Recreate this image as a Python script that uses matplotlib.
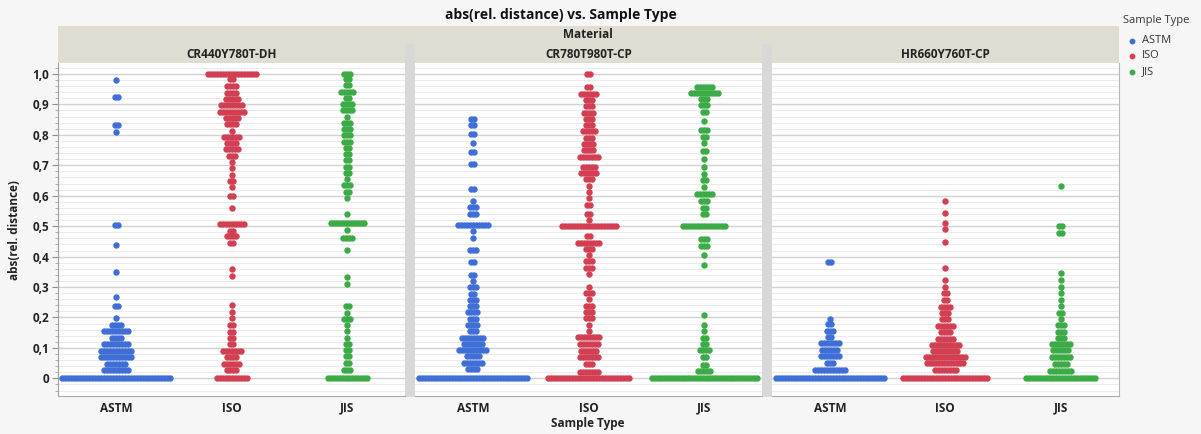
import matplotlib
matplotlib.use('Agg')
import matplotlib.pyplot as plt
from matplotlib.patches import Rectangle
import numpy as np

plt.rcParams['font.family'] = ['Open Sans', 'DejaVu Sans']

materials = ['CR440Y780T-DH', 'CR780T980T-CP', 'HR660Y760T-CP']
sample_types = ['ASTM', 'ISO', 'JIS']
type_colors = ['#3f6fd6', '#d23f52', '#3bab45']
y_ticks = [0, 0.1, 0.2, 0.3, 0.4, 0.5, 0.6, 0.7, 0.8, 0.9, 1.0]
y_tick_labels = ['0', '0,1', '0,2', '0,3', '0,4', '0,5', '0,6', '0,7', '0,8', '0,9', '1,0']

# ---- CR440Y780T-DH ----
cr440_astm_vals = [0.981, 0.924, 0.831, 0.810, 0.503, 0.438, 0.350, 0.267, 0.237, 0.198, 0.174,
                   0.154, 0.133, 0.112, 0.091, 0.069, 0.047, 0.026, 0.0]
cr440_astm_counts = [1, 2, 2, 1, 2, 1, 1, 1, 2, 1, 4, 9, 4, 9, 11, 11, 7, 9, 37]
cr440_iso_vals = [1.0, 0.982, 0.959, 0.939, 0.918, 0.897, 0.876, 0.855, 0.835, 0.814, 0.793, 0.773,
                  0.752, 0.732, 0.711, 0.690, 0.669, 0.648, 0.627, 0.598, 0.561, 0.506, 0.485, 0.466,
                  0.444, 0.358, 0.335, 0.240, 0.219, 0.198, 0.175, 0.153, 0.133, 0.112, 0.091, 0.069,
                  0.047, 0.026, 0.0]
cr440_iso_counts = [17, 2, 4, 4, 5, 8, 9, 5, 4, 1, 6, 4, 5, 3, 1, 1, 1, 2, 1, 2, 1, 9, 2, 4, 2, 1, 1,
                    1, 1, 1, 2, 2, 2, 2, 7, 4, 6, 4, 11]
cr440_jis_vals = [1.0, 0.984, 0.963, 0.942, 0.921, 0.900, 0.880, 0.860, 0.838, 0.819, 0.798, 0.778,
                  0.757, 0.736, 0.716, 0.695, 0.675, 0.654, 0.634, 0.612, 0.593, 0.541, 0.509, 0.488,
                  0.461, 0.422, 0.333, 0.311, 0.237, 0.216, 0.195, 0.174, 0.154, 0.134, 0.113, 0.093,
                  0.072, 0.051, 0.026, 0.0]
cr440_jis_counts = [3, 2, 2, 5, 2, 4, 4, 1, 3, 3, 3, 3, 2, 2, 2, 2, 2, 1, 3, 2, 1, 1, 12, 1, 4, 1, 1,
                    1, 2, 1, 3, 1, 1, 1, 2, 2, 2, 2, 3, 14]

# ---- CR780T980T-CP ----
cr780_astm_vals = [0.853, 0.832, 0.803, 0.772, 0.744, 0.704, 0.621, 0.583, 0.562, 0.541, 0.505, 0.483,
                   0.461, 0.422, 0.381, 0.341, 0.320, 0.299, 0.278, 0.257, 0.237, 0.217, 0.196, 0.175,
                   0.154, 0.134, 0.113, 0.093, 0.072, 0.051, 0.031, 0.0]
cr780_astm_counts = [2, 2, 2, 1, 2, 2, 2, 1, 3, 3, 11, 1, 1, 3, 2, 2, 1, 3, 2, 3, 3, 4, 3, 4, 3, 8, 7,
                     10, 5, 7, 4, 37]
cr780_iso_vals = [1.0, 0.956, 0.934, 0.915, 0.894, 0.872, 0.851, 0.831, 0.811, 0.790, 0.770, 0.749,
                  0.728, 0.694, 0.675, 0.654, 0.633, 0.612, 0.591, 0.571, 0.540, 0.520, 0.499, 0.468,
                  0.446, 0.425, 0.404, 0.384, 0.364, 0.343, 0.300, 0.280, 0.260, 0.239, 0.218, 0.197,
                  0.176, 0.156, 0.135, 0.113, 0.091, 0.069, 0.047, 0.022, 0.0]
cr780_iso_counts = [2, 2, 6, 3, 3, 4, 3, 3, 5, 3, 4, 4, 7, 5, 6, 3, 1, 1, 1, 2, 2, 1, 19, 2, 8, 3, 1,
                    3, 3, 1, 1, 3, 1, 3, 3, 3, 1, 1, 8, 7, 6, 7, 3, 7, 28]
cr780_jis_vals = [0.958, 0.938, 0.917, 0.897, 0.876, 0.844, 0.815, 0.794, 0.773, 0.746, 0.721, 0.693,
                  0.672, 0.652, 0.630, 0.607, 0.582, 0.561, 0.539, 0.501, 0.459, 0.434, 0.406, 0.373,
                  0.207, 0.176, 0.156, 0.133, 0.114, 0.093, 0.071, 0.045, 0.024, 0.0]
cr780_jis_counts = [6, 10, 3, 3, 2, 1, 3, 2, 1, 2, 1, 1, 1, 2, 1, 6, 3, 2, 2, 15, 3, 3, 1, 1, 1, 1,
                    1, 2, 2, 4, 2, 2, 5, 36]

# ---- HR660Y760T-CP ----
hr660_astm_vals = [0.383, 0.196, 0.177, 0.156, 0.135, 0.115, 0.093, 0.072, 0.051, 0.027, 0.0]
hr660_astm_counts = [2, 1, 2, 3, 2, 7, 6, 7, 3, 11, 37]
hr660_iso_vals = [0.584, 0.544, 0.510, 0.490, 0.447, 0.361, 0.322, 0.301, 0.280, 0.256, 0.235, 0.214,
                  0.194, 0.173, 0.151, 0.130, 0.111, 0.090, 0.069, 0.049, 0.027, 0.0]
hr660_iso_counts = [1, 1, 1, 1, 1, 1, 1, 1, 2, 2, 4, 3, 3, 6, 4, 6, 10, 9, 14, 13, 8, 29]
hr660_jis_vals = [0.631, 0.502, 0.476, 0.345, 0.323, 0.301, 0.280, 0.258, 0.238, 0.216, 0.195, 0.174,
                  0.152, 0.133, 0.114, 0.092, 0.069, 0.048, 0.025, 0.0]
hr660_jis_counts = [1, 2, 2, 1, 1, 1, 1, 1, 1, 2, 1, 3, 3, 3, 7, 6, 7, 5, 8, 24]

panel_data = [
    [(cr440_astm_vals, cr440_astm_counts), (cr440_iso_vals, cr440_iso_counts), (cr440_jis_vals, cr440_jis_counts)],
    [(cr780_astm_vals, cr780_astm_counts), (cr780_iso_vals, cr780_iso_counts), (cr780_jis_vals, cr780_jis_counts)],
    [(hr660_astm_vals, hr660_astm_counts), (hr660_iso_vals, hr660_iso_counts), (hr660_jis_vals, hr660_jis_counts)],
]

# ---------------- layout (pixel based) ----------------
W, H = 1201, 434
fig = plt.figure(figsize=(W / 100, H / 100), dpi=100)
fig.patch.set_facecolor('#f6f6f6')


def fx(x):
    return x / W


def fy(y):
    return 1 - y / H


def frect(x0, y0, x1, y1, color, z=0):
    fig.add_artist(Rectangle((fx(x0), fy(y1)), (x1 - x0) / W, (y1 - y0) / H,
                             transform=fig.transFigure, facecolor=color, edgecolor='none', zorder=z))


panels_x = [(58.3, 405.0), (415.0, 762.0), (772.0, 1118.5)]
strip_top, strip_mid, plot_top, plot_bot = 26.0, 44.0, 63.3, 396.0
strip_color = '#dfddd1'
sep_color = '#d8d8d8'

# Material strip
frect(panels_x[0][0], strip_top, panels_x[2][1], strip_mid, strip_color)
# separators between panels
frect(405.0, strip_mid, 415.0, plot_bot + 1, sep_color)
frect(762.0, strip_mid, 772.0, plot_bot + 1, sep_color)

ylim = (-0.058, 1.035)
dot_px = 6.4        # dot diameter in pixels
step_px = 3.0       # horizontal step between dots in a row

axes = []
for pi, (x0, x1) in enumerate(panels_x):
    # panel name strip
    frect(x0, strip_mid, x1, plot_top, strip_color)
    fig.text(fx((x0 + x1) / 2), fy(54), materials[pi], ha='center', va='center',
             fontsize=8.5, fontweight='bold', color='#222222')

    ax = fig.add_axes([fx(x0), fy(plot_bot), (x1 - x0) / W, (plot_bot - plot_top) / H])
    ax.set_facecolor('white')
    ax.set_xlim(-0.5, 2.5)
    ax.set_ylim(*ylim)

    # grid
    for g in np.arange(-0.04, 1.035, 0.02):
        ax.axhline(g, color='#ebebeb', lw=0.8, zorder=0)
    for g in y_ticks:
        ax.axhline(g, color='#d2d2d2', lw=1.0, zorder=0)

    step_data = step_px / ((x1 - x0) / 3.0)
    for ti, (vals, counts) in enumerate(panel_data[pi]):
        xs, ys = [], []
        for v, n in zip(vals, counts):
            offs = (np.arange(n) - (n - 1) / 2.0) * step_data
            xs.extend(ti + offs)
            ys.extend([v] * n)
        ax.scatter(xs, ys, s=(dot_px * 0.72) ** 2, color=type_colors[ti], linewidths=0,
                   zorder=3, clip_on=True)

    ax.set_xticks(range(3))
    ax.set_xticklabels(sample_types, fontsize=8.5, fontweight='bold', color='#222222')
    ax.tick_params(axis='x', length=0, pad=4)

    ax.spines['top'].set_visible(False)
    ax.spines['bottom'].set_color('#a8a8a8')
    ax.spines['left'].set_visible(pi == 0)
    ax.spines['left'].set_color('#a0a0a0')
    ax.spines['right'].set_visible(pi == 2)
    ax.spines['right'].set_color('#b8b8b8')

    if pi == 0:
        ax.set_yticks(y_ticks)
        ax.set_yticklabels(y_tick_labels, fontsize=8.5, fontweight='bold', color='#222222')
        ax.set_yticks(np.arange(-0.04, 1.03, 0.02), minor=True)
        ax.tick_params(axis='y', which='major', length=4.5, width=0.8, color='#909090', pad=2)
        ax.tick_params(axis='y', which='minor', length=2.5, width=0.6, color='#a0a0a0')
        ax.set_ylabel('abs(rel. distance)', fontsize=8.5, fontweight='bold', color='#222222',
                      labelpad=8)
    else:
        ax.set_yticks([])
        ax.set_yticks([], minor=True)
    axes.append(ax)

fig.text(fx(588), fy(35), 'Material', ha='center', va='center', fontsize=8.5,
         fontweight='bold', color='#222222')
fig.text(fx(561), fy(15), 'abs(rel. distance) vs. Sample Type', ha='center', va='center',
         fontsize=10, fontweight='bold', color='#111111')
fig.text(fx(588), fy(423.5), 'Sample Type', ha='center', va='center', fontsize=8.5,
         fontweight='bold', color='#222222')

# legend
fig.text(fx(1123), fy(20.5), 'Sample Type', ha='left', va='center', fontsize=8, color='#333333')
leg_y = [40.5, 56.0, 71.5]
for ti, name in enumerate(sample_types):
    fig.add_artist(plt.Line2D([fx(1132)], [fy(leg_y[ti])], marker='o', markersize=3.2,
                              color=type_colors[ti], linestyle='none', transform=fig.transFigure))
    fig.text(fx(1142), fy(leg_y[ti]), name, ha='left', va='center', fontsize=8, color='#333333')

fig.savefig('out.png', dpi=100, facecolor=fig.get_facecolor())
